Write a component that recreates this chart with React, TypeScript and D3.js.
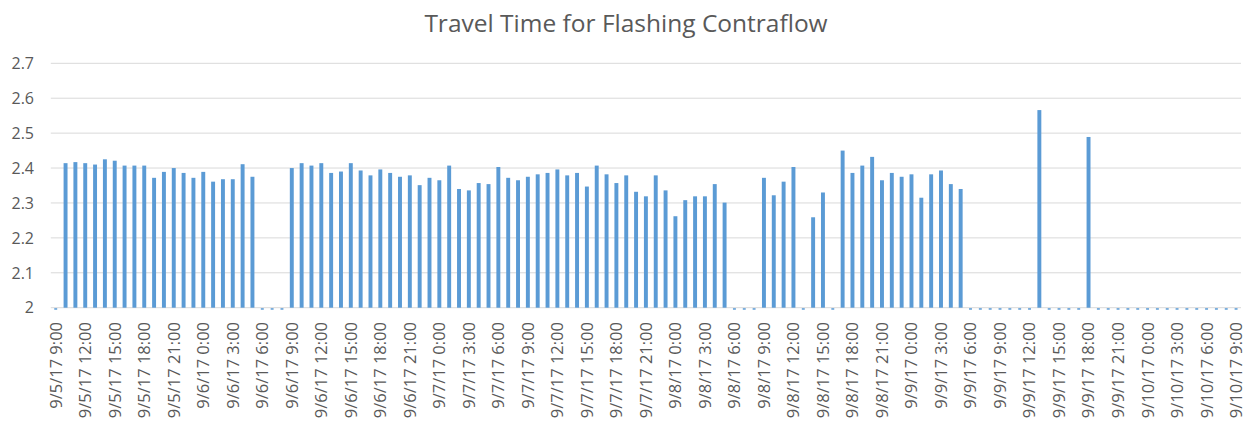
import { scaleBand, scaleLinear, range } from "d3";

const WIDTH = 1250;
const HEIGHT = 421;
const PLOT = { left: 50.8, right: 1241, top: 63.3, bottom: 307.7 };

const TITLE = "Travel Time for Flashing Contraflow";

// hourly readings, 9/5/17 9:00 through 9/10/17 9:00 (0 = no reading)
const travelTime = [
  // 9/5 9:00 - 23:00
  0, 2.414, 2.417, 2.414, 2.41, 2.425, 2.421, 2.407, 2.407, 2.407, 2.372, 2.389, 2.4, 2.386, 2.372,
  // 9/6
  2.389, 2.361, 2.368, 2.368, 2.411, 2.375, 0, 0, 0, 2.4, 2.414, 2.407,
  2.414, 2.386, 2.39, 2.414, 2.393, 2.379, 2.396, 2.386, 2.375, 2.379, 2.351, 2.372,
  // 9/7
  2.365, 2.407, 2.34, 2.336, 2.357, 2.354, 2.403, 2.372, 2.365, 2.375, 2.382, 2.386,
  2.396, 2.379, 2.386, 2.347, 2.407, 2.382, 2.357, 2.379, 2.332, 2.319, 2.379, 2.336,
  // 9/8
  2.262, 2.308, 2.319, 2.319, 2.354, 2.301, 0, 0, 0, 2.372, 2.322, 2.361,
  2.403, 0, 2.259, 2.33, 0, 2.45, 2.386, 2.407, 2.432, 2.365, 2.386, 2.375,
  // 9/9
  2.382, 2.315, 2.382, 2.393, 2.354, 2.34, 0, 0, 0, 0, 0, 0,
  0, 2.566, 0, 0, 0, 0, 2.489, 0, 0, 0, 0, 0,
  // 9/10 0:00 - 9:00
  0, 0, 0, 0, 0, 0, 0, 0, 0, 0,
];

// one label every third hour
const tickLabels = [
  "9/5/17 9:00", "9/5/17 12:00", "9/5/17 15:00", "9/5/17 18:00", "9/5/17 21:00",
  "9/6/17 0:00", "9/6/17 3:00", "9/6/17 6:00", "9/6/17 9:00", "9/6/17 12:00",
  "9/6/17 15:00", "9/6/17 18:00", "9/6/17 21:00", "9/7/17 0:00", "9/7/17 3:00",
  "9/7/17 6:00", "9/7/17 9:00", "9/7/17 12:00", "9/7/17 15:00", "9/7/17 18:00",
  "9/7/17 21:00", "9/8/17 0:00", "9/8/17 3:00", "9/8/17 6:00", "9/8/17 9:00",
  "9/8/17 12:00", "9/8/17 15:00", "9/8/17 18:00", "9/8/17 21:00", "9/9/17 0:00",
  "9/9/17 3:00", "9/9/17 6:00", "9/9/17 9:00", "9/9/17 12:00", "9/9/17 15:00",
  "9/9/17 18:00", "9/9/17 21:00", "9/10/17 0:00", "9/10/17 3:00", "9/10/17 6:00",
  "9/10/17 9:00",
];

const yTicks = [2, 2.1, 2.2, 2.3, 2.4, 2.5, 2.6, 2.7];

const TEXT = "#595959";
const BAR = "#5b9bd5";
const GRID = "#d9d9d9";
const FONT = "'Open Sans', sans-serif";

export default function App() {
  const xScale = scaleBand<number>()
    .domain(range(travelTime.length))
    .range([PLOT.left, PLOT.right])
    .padding(0);
  const step = xScale.step();
  const barWidth = step / 2.5;
  const yScale = scaleLinear().domain([2, 2.7]).range([PLOT.bottom, PLOT.top]);
  const center = (i: number) => (xScale(i) ?? 0) + step / 2;

  return (
    <svg
      width={WIDTH}
      height={HEIGHT}
      viewBox={`0 0 ${WIDTH} ${HEIGHT}`}
      style={{ position: "absolute", left: 0, top: 0, background: "#fff" }}
      fontFamily={FONT}
    >
      <text x={626} y={32} textAnchor="middle" fontSize={24.5} fill={TEXT}>
        {TITLE}
      </text>

      {yTicks.map((t) => (
        <g key={t}>
          <line
            x1={PLOT.left}
            x2={PLOT.right}
            y1={yScale(t)}
            y2={yScale(t)}
            stroke={GRID}
            strokeWidth={1}
          />
          <text
            x={34}
            y={yScale(t)}
            dy="0.36em"
            textAnchor="end"
            fontSize={16}
            fill={TEXT}
          >
            {t === 2 ? "2" : t.toFixed(1)}
          </text>
        </g>
      ))}

      {travelTime.map((v, i) => {
        const cx = center(i);
        if (v <= 2) {
          // Excel draws a stub below the axis for values under the minimum
          return (
            <rect
              key={i}
              x={cx - barWidth / 2 + 0.5}
              y={yScale(2) + 0.5}
              width={barWidth - 1}
              height={1.5}
              fill={BAR}
            />
          );
        }
        return (
          <rect
            key={i}
            x={cx - barWidth / 2}
            y={yScale(v)}
            width={barWidth}
            height={yScale(2) - yScale(v)}
            fill={BAR}
          />
        );
      })}

      {tickLabels.map((label, k) => {
        const cx = center(k * 3);
        return (
          <text
            key={label}
            transform={`translate(${cx},322) rotate(-90)`}
            dy="0.36em"
            textAnchor="end"
            fontSize={16.5}
            fill={TEXT}
          >
            {label}
          </text>
        );
      })}
    </svg>
  );
}
